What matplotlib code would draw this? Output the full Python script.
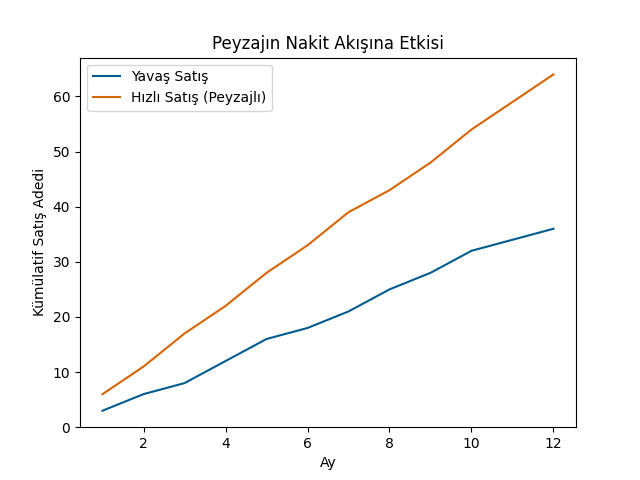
import matplotlib
matplotlib.use('Agg')
import matplotlib.pyplot as plt

# monthly cumulative sales
months = [1, 2, 3, 4, 5, 6, 7, 8, 9, 10, 11, 12]
slow_sales = [3, 6, 8, 12, 16, 18, 21, 25, 28, 32, 34, 36]
fast_sales = [6, 11, 17, 22, 28, 33, 39, 43, 48, 54, 59, 64]

fig, ax = plt.subplots(figsize=(6.4, 4.8), dpi=100)
ax.plot(months, slow_sales, color='#005b8f', label='Yavaş Satış')
ax.plot(months, fast_sales, color='#d66500', label='Hızlı Satış (Peyzajlı)')
ax.set_title('Peyzajın Nakit Akışına Etkisi')
ax.set_xlabel('Ay')
ax.set_ylabel('Kümülatif Satış Adedi')
ax.set_ylim(bottom=0)
ax.legend(loc='upper left')

plt.savefig('out.png')
